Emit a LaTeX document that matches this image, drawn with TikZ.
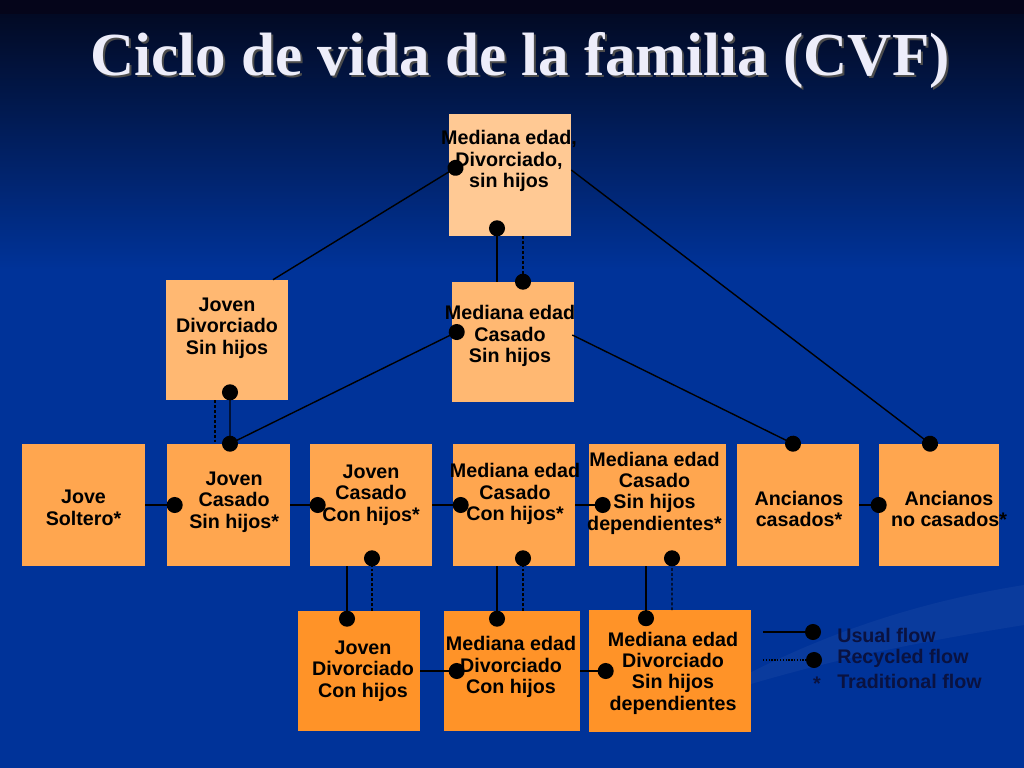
\documentclass[tikz,border=0pt]{standalone}
\usepackage{fontspec}
\setmainfont{Liberation Serif}
\setsansfont{Liberation Sans}
\usetikzlibrary{calc,arrows.meta}
\definecolor{bgtop}{HTML}{020A24}
\definecolor{bgdark}{HTML}{05051A}
\definecolor{bgblue}{HTML}{003399}
\definecolor{peach}{HTML}{FFC994}
\definecolor{tan}{HTML}{FFB872}
\definecolor{orangeA}{HTML}{FFA64F}
\definecolor{orangeB}{HTML}{FF9328}
\definecolor{legendtext}{HTML}{0A1240}
\definecolor{titletext}{HTML}{EDEDFA}
\tikzset{bullet/.tip={Circle[length=0.4cm]}}

\begin{document}
\begin{tikzpicture}[x=0.025cm, y=-0.025cm,
    box/.style={minimum width=3.05cm, minimum height=3.05cm, inner sep=0pt},
    txt/.style={font=\sffamily\bfseries\fontsize{14}{15.2}\selectfont, align=center, text=black},
    legend/.style={font=\sffamily\bfseries\fontsize{14}{16}\selectfont, text=legendtext, inner sep=0pt},
    title/.style={font=\rmfamily\bfseries\fontsize{43.5}{50}\selectfont, inner sep=0pt},
    usual/.style={line width=1pt, -bullet, shorten >=-0.4cm},
    dashline/.style={line width=0.8pt, dash pattern=on 2pt off 1.5pt},
    recycled/.style={dashline, -bullet, shorten >=-0.4cm},
  ]
  \useasboundingbox (0,0) rectangle (1024,768);
  \fill[bgblue] (0,0) rectangle (1024,768);
  \shade[top color=bgtop, bottom color=bgblue] (0,14) rectangle (1024,270);
  \fill[bgdark] (0,0) rectangle (1024,14);
  \fill[white, opacity=0.04] (700,700) .. controls (820,630) and (930,600) .. (1024,585)
    -- (1024,625) .. controls (930,640) and (820,660) .. (700,700);

  \node[title, text=black!70, anchor=base] (0s) at (522,78) {Ciclo de vida de la familia (CVF)};
  \node[title, text=titletext, anchor=base] (0) at (520,76) {Ciclo de vida de la familia (CVF)};

  \node[box, fill=peach, label={[txt, xshift=-0.025cm, yshift=0.35cm]center:{Mediana edad,\\Divorciado,\\sin hijos}}] (1) at (510, 175) {};
  \node[box, fill=tan, minimum height=3cm, label={[txt, yshift=0.3cm]center:{Joven\\Divorciado\\Sin hijos}}] (2) at (227, 340) {};
  \node[box, fill=tan, minimum height=3cm, label={[txt, xshift=-0.075cm, yshift=0.15cm]center:{Mediana edad\\Casado\\Sin hijos}}] (3) at (513, 342) {};

  \node[box, fill=orangeA, minimum width=3.075cm, label={[txt, yshift=-0.075cm]center:{Jove\\Soltero*}}] (4) at (83.5, 505) {};
  \node[box, fill=orangeA, minimum width=3.075cm, label={[txt, xshift=0.14cm, yshift=0.075cm]center:{Joven\\Casado\\Sin hijos*}}] (5) at (228.5, 505) {};
  \node[box, fill=orangeA, label={[txt, yshift=0.25cm]center:{Joven\\Casado\\Con hijos*}}] (6) at (371, 505) {};
  \node[box, fill=orangeA, label={[txt, xshift=0.025cm, yshift=0.275cm]center:{Mediana edad\\Casado\\Con hijos*}}] (7) at (514, 505) {};
  \node[box, fill=orangeA, minimum width=3.425cm, label={[txt, xshift=-0.075cm, yshift=0.3cm]center:{Mediana edad\\Casado\\Sin hijos\\dependientes*}}] (8) at (657.5, 505) {};
  \node[box, fill=orangeA, label={[txt, xshift=0.025cm, yshift=-0.1cm]center:{Ancianos\\casados*}}] (9) at (798, 505) {};
  \node[box, fill=orangeA, minimum width=3cm, label={[txt, xshift=0.25cm, yshift=-0.1cm]center:{Ancianos\\no casados*}}] (10) at (939, 505) {};

  \node[box, fill=orangeB, minimum height=3cm, label={[txt, xshift=0.1cm, yshift=0cm]center:{Joven\\Divorciado\\Con hijos}}] (11) at (359, 671) {};
  \node[box, fill=orangeB, minimum width=3.4cm, minimum height=3cm, label={[txt, xshift=-0.025cm, yshift=0.1cm]center:{Mediana edad\\Divorciado\\Con hijos}}] (12) at (512, 671) {};
  \node[box, fill=orangeB, minimum width=4.05cm, minimum height=3.025cm, label={[txt, xshift=0.075cm, yshift=-0.05cm]center:{Mediana edad\\Divorciado\\Sin hijos\\dependientes}}] (13) at (670, 671) {};

  % row to row
  \draw[usual] (4) -- (5);
  \draw[usual] (5) -- (6);
  \draw[usual] (6) -- (7);
  \draw[usual, shorten >=-0.55cm] (7) -- (8);
  \draw[usual, shorten >=-0.2cm] (9) -- (10);
  \draw[usual, shorten >=-0.525cm] (11) -- (12);
  \draw[usual, shorten >=-0.625cm] (12) -- (13);

  % divorcio y vuelta
  \draw[usual] ($(6.south)+(-24,0)$) -- ($(11.north)+(-12,0)$);
  \draw[recycled] ($(11.north)+(13,0)$) -- ($(6.south)+(1,0)$);
  \draw[usual] ($(7.south)+(-17,0)$) -- ($(12.north)+(-15,0)$);
  \draw[recycled] ($(12.north)+(11,0)$) -- ($(7.south)+(9,0)$);
  \draw[usual] ($(8.south)+(-11.5,0)$) -- ($(13.north)+(-24,0)$);
  \draw[recycled] ($(13.north)+(2,0)$) -- ($(8.south)+(14.5,0)$);
  \draw[usual] ($(5.north)+(1.5,0)$) -- ($(2.south)+(3,0)$);
  \draw[dashline] ($(2.south)+(-12,0)$) -- ($(5.north)+(-13.5,0)$);

  % hacia arriba
  \draw[usual, bullet-bullet, shorten <=-0.2cm, shorten >=-0.34cm] ($(5.north)+(1.5,0)$) -- ($(3.west)+(0,-7.5)$);
  \draw[usual] ($(2.north)+(46,0)$) -- ($(1.west)+(0,-3)$);
  \draw[usual] ($(3.north)+(-16,0)$) -- ($(1.south)+(-13,0)$);
  \draw[recycled, shorten >=-0.2cm] ($(1.south)+(13,0)$) -- ($(3.north)+(10,0)$);
  \draw[usual, shorten >=-0.2cm] ($(1.east)+(0,-5)$) -- ($(10.north)+(-9,0)$);
  \draw[usual, shorten >=-0.2cm] ($(3.east)+(-2,-7)$) -- ($(9.north)+(-5,0)$);

  % legend
  \coordinate (u0) at (763, 632);
  \coordinate (u1) at (805, 632);
  \coordinate (r0) at (763, 660);
  \coordinate (r1) at (806, 660);
  \draw[usual] (u0) -- (u1);
  \draw[recycled, dash pattern=on 1pt off 1pt] (r0) -- (r1);
  \node[legend, anchor=west] (14) at (837, 635) {Usual flow};
  \node[legend, anchor=west] (15) at (837, 658) {Recycled flow};
  \node[legend, anchor=west] (16) at (837, 681) {Traditional flow};
  \node[legend] (17) at (817, 684) {*};
\end{tikzpicture}
\end{document}
